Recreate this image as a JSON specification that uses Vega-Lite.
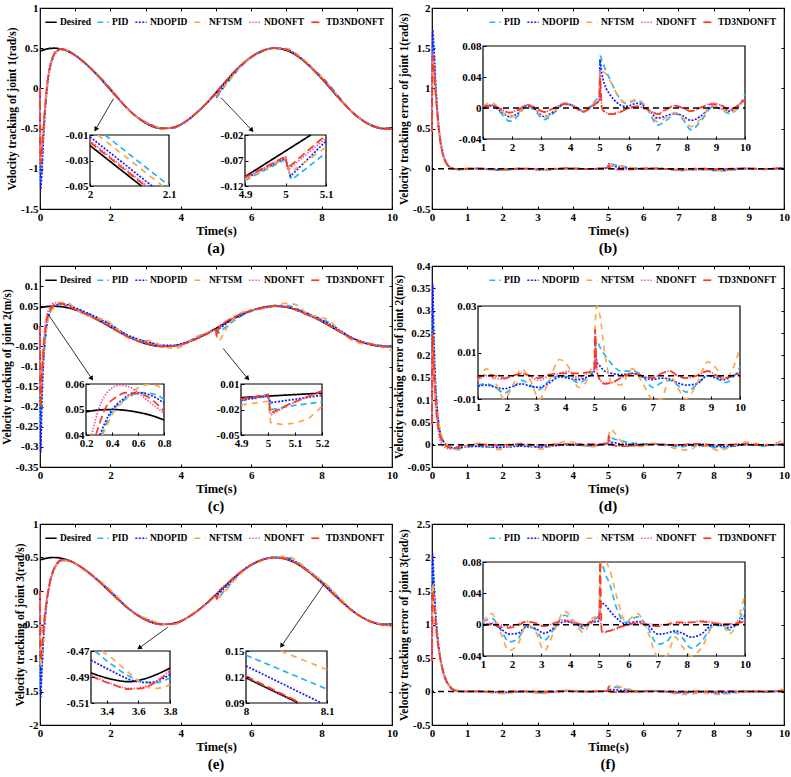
{
"$schema":"https://vega.github.io/schema/vega-lite/v6.json",
"background":"white",
"padding":{"left":0,"top":1,"right":3,"bottom":2},
"config":{
 "view":{"stroke":"#000","strokeWidth":1.2},
 "axis":{"labelFont":"Liberation Serif","labelFontWeight":"bold","labelFontSize":11,"labelColor":"#000","titleFont":"Liberation Serif","titleFontWeight":"bold","titleColor":"#000","grid":false,"domain":false,"ticks":true,"tickColor":"#000","tickSize":-3,"tickWidth":1,"labelPadding":5,"labelFlush":false,"labelOverlap":false,"labelBound":false},
 "legend":{"labelFont":"Liberation Serif","labelFontWeight":"bold","labelFontSize":9.5,"labelColor":"#000","symbolType":"stroke","symbolSize":130,"symbolStrokeWidth":2,"columnPadding":2,"labelOffset":2,"padding":0,"direction":"horizontal","orient":"top-right","offset":7},
 "title":{"font":"Liberation Serif","fontSize":15,"fontWeight":"bold","color":"#000","orient":"bottom","anchor":"middle","offset":4},
 "line":{"strokeWidth":1.7,"interpolate":"monotone"}
},
"datasets":{
"a":[
{"t":0,"Desired":0.462,"PID":0,"NDOPID":0,"NFTSM":0,"NDONFT":0,"TD3NDONFT":0},
{"t":0.02,"Desired":0.466,"PID":-1.154,"NDOPID":-1.254,"NFTSM":-0.884,"NDONFT":-0.984,"TD3NDONFT":-0.934},
{"t":0.05,"Desired":0.471,"PID":-1.029,"NDOPID":-1.079,"NFTSM":-0.779,"NDONFT":-0.829,"TD3NDONFT":-0.779},
{"t":0.1,"Desired":0.479,"PID":-0.571,"NDOPID":-0.621,"NFTSM":-0.521,"NDONFT":-0.491,"TD3NDONFT":-0.471},
{"t":0.15,"Desired":0.485,"PID":-0.235,"NDOPID":-0.265,"NFTSM":-0.235,"NDONFT":-0.195,"TD3NDONFT":-0.195},
{"t":0.2,"Desired":0.491,"PID":0.021,"NDOPID":-0.009,"NFTSM":0.011,"NDONFT":0.041,"TD3NDONFT":0.041},
{"t":0.3,"Desired":0.498,"PID":0.298,"NDOPID":0.278,"NFTSM":0.288,"NDONFT":0.308,"TD3NDONFT":0.308},
{"t":0.4,"Desired":0.5,"PID":0.42,"NDOPID":0.41,"NFTSM":0.415,"NDONFT":0.43,"TD3NDONFT":0.43},
{"t":0.5,"Desired":0.497,"PID":0.472,"NDOPID":0.467,"NFTSM":0.467,"NDONFT":0.477,"TD3NDONFT":0.477},
{"t":0.6,"Desired":0.489,"PID":0.489,"NDOPID":0.484,"NFTSM":0.484,"NDONFT":0.491,"TD3NDONFT":0.491},
{"t":0.8,"Desired":0.459,"PID":0.469,"NDOPID":0.467,"NFTSM":0.465,"NDONFT":0.465,"TD3NDONFT":0.465},
{"t":1,"Desired":0.411,"PID":0.411,"NDOPID":0.411,"NFTSM":0.409,"NDONFT":0.409,"TD3NDONFT":0.409},
{"t":1.3,"Desired":0.308,"PID":0.304,"NDOPID":0.305,"NFTSM":0.301,"NDONFT":0.304,"TD3NDONFT":0.305},
{"t":1.6,"Desired":0.178,"PID":0.184,"NDOPID":0.182,"NFTSM":0.18,"NDONFT":0.179,"TD3NDONFT":0.179},
{"t":1.9,"Desired":0.032,"PID":0.049,"NDOPID":0.043,"NFTSM":0.044,"NDONFT":0.038,"TD3NDONFT":0.038},
{"t":2.2,"Desired":-0.117,"PID":-0.107,"NDOPID":-0.11,"NFTSM":-0.11,"NDONFT":-0.115,"TD3NDONFT":-0.114},
{"t":2.5,"Desired":-0.256,"PID":-0.259,"NDOPID":-0.259,"NFTSM":-0.26,"NDONFT":-0.26,"TD3NDONFT":-0.26},
{"t":2.8,"Desired":-0.371,"PID":-0.367,"NDOPID":-0.369,"NFTSM":-0.369,"NDONFT":-0.372,"TD3NDONFT":-0.371},
{"t":3.1,"Desired":-0.454,"PID":-0.439,"NDOPID":-0.443,"NFTSM":-0.442,"NDONFT":-0.449,"TD3NDONFT":-0.449},
{"t":3.45,"Desired":-0.498,"PID":-0.492,"NDOPID":-0.494,"NFTSM":-0.494,"NDONFT":-0.498,"TD3NDONFT":-0.498},
{"t":3.8,"Desired":-0.483,"PID":-0.488,"NDOPID":-0.489,"NFTSM":-0.489,"NDONFT":-0.489,"TD3NDONFT":-0.488},
{"t":4.1,"Desired":-0.422,"PID":-0.425,"NDOPID":-0.425,"NFTSM":-0.425,"NDONFT":-0.425,"TD3NDONFT":-0.424},
{"t":4.45,"Desired":-0.305,"PID":-0.301,"NDOPID":-0.301,"NFTSM":-0.301,"NDONFT":-0.3,"TD3NDONFT":-0.3},
{"t":4.75,"Desired":-0.174,"PID":-0.179,"NDOPID":-0.177,"NFTSM":-0.178,"NDONFT":-0.176,"TD3NDONFT":-0.176},
{"t":4.95,"Desired":-0.077,"PID":-0.09,"NDOPID":-0.085,"NFTSM":-0.087,"NDONFT":-0.085,"TD3NDONFT":-0.085},
{"t":5,"Desired":-0.053,"PID":-0.068,"NDOPID":-0.063,"NFTSM":-0.065,"NDONFT":-0.063,"TD3NDONFT":-0.063},
{"t":5.02,"Desired":-0.043,"PID":-0.111,"NDOPID":-0.105,"NFTSM":-0.093,"NDONFT":-0.088,"TD3NDONFT":-0.083},
{"t":5.08,"Desired":-0.013,"PID":-0.075,"NDOPID":-0.058,"NFTSM":-0.061,"NDONFT":-0.015,"TD3NDONFT":-0.013},
{"t":5.2,"Desired":0.047,"PID":-0.003,"NDOPID":0.019,"NFTSM":0.002,"NDONFT":0.052,"TD3NDONFT":0.053},
{"t":5.35,"Desired":0.121,"PID":0.083,"NDOPID":0.103,"NFTSM":0.085,"NDONFT":0.129,"TD3NDONFT":0.129},
{"t":5.6,"Desired":0.238,"PID":0.22,"NDOPID":0.231,"NFTSM":0.22,"NDONFT":0.244,"TD3NDONFT":0.245},
{"t":5.9,"Desired":0.357,"PID":0.351,"NDOPID":0.355,"NFTSM":0.35,"NDONFT":0.359,"TD3NDONFT":0.359},
{"t":6.3,"Desired":0.465,"PID":0.455,"NDOPID":0.459,"NFTSM":0.454,"NDONFT":0.463,"TD3NDONFT":0.463},
{"t":6.65,"Desired":0.5,"PID":0.502,"NDOPID":0.501,"NFTSM":0.5,"NDONFT":0.502,"TD3NDONFT":0.502},
{"t":7,"Desired":0.474,"PID":0.496,"NDOPID":0.487,"NFTSM":0.492,"NDONFT":0.481,"TD3NDONFT":0.482},
{"t":7.3,"Desired":0.406,"PID":0.422,"NDOPID":0.416,"NFTSM":0.418,"NDONFT":0.407,"TD3NDONFT":0.408},
{"t":7.6,"Desired":0.301,"PID":0.308,"NDOPID":0.308,"NFTSM":0.307,"NDONFT":0.298,"TD3NDONFT":0.298},
{"t":7.85,"Desired":0.193,"PID":0.207,"NDOPID":0.203,"NFTSM":0.205,"NDONFT":0.193,"TD3NDONFT":0.193},
{"t":8.15,"Desired":0.048,"PID":0.076,"NDOPID":0.064,"NFTSM":0.072,"NDONFT":0.052,"TD3NDONFT":0.052},
{"t":8.5,"Desired":-0.125,"PID":-0.109,"NDOPID":-0.115,"NFTSM":-0.112,"NDONFT":-0.126,"TD3NDONFT":-0.126},
{"t":8.9,"Desired":-0.304,"PID":-0.306,"NDOPID":-0.306,"NFTSM":-0.307,"NDONFT":-0.31,"TD3NDONFT":-0.309},
{"t":9.2,"Desired":-0.408,"PID":-0.406,"NDOPID":-0.407,"NFTSM":-0.407,"NDONFT":-0.411,"TD3NDONFT":-0.411},
{"t":9.45,"Desired":-0.467,"PID":-0.46,"NDOPID":-0.463,"NFTSM":-0.461,"NDONFT":-0.465,"TD3NDONFT":-0.465},
{"t":9.75,"Desired":-0.499,"PID":-0.499,"NDOPID":-0.501,"NFTSM":-0.499,"NDONFT":-0.502,"TD3NDONFT":-0.502},
{"t":10,"Desired":-0.492,"PID":-0.51,"NDOPID":-0.504,"NFTSM":-0.505,"NDONFT":-0.504,"TD3NDONFT":-0.503}
],
"b":[
{"t":0,"PID":0.462,"NDOPID":0.462,"NFTSM":0.462,"NDONFT":0.462,"TD3NDONFT":0.462},
{"t":0.02,"PID":1.62,"NDOPID":1.72,"NFTSM":1.35,"NDONFT":1.45,"TD3NDONFT":1.4},
{"t":0.05,"PID":1.5,"NDOPID":1.55,"NFTSM":1.25,"NDONFT":1.3,"TD3NDONFT":1.25},
{"t":0.1,"PID":1.05,"NDOPID":1.1,"NFTSM":1.0,"NDONFT":0.97,"TD3NDONFT":0.95},
{"t":0.15,"PID":0.72,"NDOPID":0.75,"NFTSM":0.72,"NDONFT":0.68,"TD3NDONFT":0.68},
{"t":0.2,"PID":0.47,"NDOPID":0.5,"NFTSM":0.48,"NDONFT":0.45,"TD3NDONFT":0.45},
{"t":0.3,"PID":0.2,"NDOPID":0.22,"NFTSM":0.21,"NDONFT":0.19,"TD3NDONFT":0.19},
{"t":0.4,"PID":0.08,"NDOPID":0.09,"NFTSM":0.085,"NDONFT":0.07,"TD3NDONFT":0.07},
{"t":0.5,"PID":0.025,"NDOPID":0.03,"NFTSM":0.03,"NDONFT":0.02,"TD3NDONFT":0.02},
{"t":0.6,"PID":0,"NDOPID":0.005,"NFTSM":0.005,"NDONFT":-0.002,"TD3NDONFT":-0.002},
{"t":0.8,"PID":-0.01,"NDOPID":-0.008,"NFTSM":-0.006,"NDONFT":-0.006,"TD3NDONFT":-0.006},
{"t":1,"PID":0,"NDOPID":0,"NFTSM":0.002,"NDONFT":0.002,"TD3NDONFT":0.002},
{"t":1.3,"PID":0.004,"NDOPID":0.003,"NFTSM":0.007,"NDONFT":0.004,"TD3NDONFT":0.003},
{"t":1.6,"PID":-0.006,"NDOPID":-0.004,"NFTSM":-0.002,"NDONFT":-0.001,"TD3NDONFT":-0.001},
{"t":1.9,"PID":-0.017,"NDOPID":-0.011,"NFTSM":-0.012,"NDONFT":-0.006,"TD3NDONFT":-0.006},
{"t":2.2,"PID":-0.01,"NDOPID":-0.007,"NFTSM":-0.007,"NDONFT":-0.002,"TD3NDONFT":-0.003},
{"t":2.5,"PID":0.003,"NDOPID":0.003,"NFTSM":0.004,"NDONFT":0.004,"TD3NDONFT":0.004},
{"t":2.8,"PID":-0.004,"NDOPID":-0.002,"NFTSM":-0.002,"NDONFT":0.001,"TD3NDONFT":0},
{"t":3.1,"PID":-0.015,"NDOPID":-0.011,"NFTSM":-0.012,"NDONFT":-0.005,"TD3NDONFT":-0.005},
{"t":3.45,"PID":-0.006,"NDOPID":-0.004,"NFTSM":-0.004,"NDONFT":0,"TD3NDONFT":0},
{"t":3.8,"PID":0.005,"NDOPID":0.006,"NFTSM":0.006,"NDONFT":0.006,"TD3NDONFT":0.005},
{"t":4.1,"PID":0.003,"NDOPID":0.003,"NFTSM":0.003,"NDONFT":0.003,"TD3NDONFT":0.002},
{"t":4.45,"PID":-0.004,"NDOPID":-0.004,"NFTSM":-0.004,"NDONFT":-0.005,"TD3NDONFT":-0.005},
{"t":4.75,"PID":0.005,"NDOPID":0.003,"NFTSM":0.004,"NDONFT":0.002,"TD3NDONFT":0.002},
{"t":4.95,"PID":0.013,"NDOPID":0.008,"NFTSM":0.01,"NDONFT":0.008,"TD3NDONFT":0.008},
{"t":5,"PID":0.015,"NDOPID":0.01,"NFTSM":0.012,"NDONFT":0.01,"TD3NDONFT":0.01},
{"t":5.02,"PID":0.068,"NDOPID":0.062,"NFTSM":0.05,"NDONFT":0.045,"TD3NDONFT":0.04},
{"t":5.08,"PID":0.062,"NDOPID":0.045,"NFTSM":0.048,"NDONFT":0.002,"TD3NDONFT":0},
{"t":5.2,"PID":0.05,"NDOPID":0.028,"NFTSM":0.045,"NDONFT":-0.005,"TD3NDONFT":-0.006},
{"t":5.35,"PID":0.038,"NDOPID":0.018,"NFTSM":0.036,"NDONFT":-0.008,"TD3NDONFT":-0.008},
{"t":5.6,"PID":0.018,"NDOPID":0.007,"NFTSM":0.018,"NDONFT":-0.006,"TD3NDONFT":-0.007},
{"t":5.9,"PID":0.006,"NDOPID":0.002,"NFTSM":0.007,"NDONFT":-0.002,"TD3NDONFT":-0.002},
{"t":6.3,"PID":0.01,"NDOPID":0.006,"NFTSM":0.011,"NDONFT":0.002,"TD3NDONFT":0.002},
{"t":6.65,"PID":-0.002,"NDOPID":-0.001,"NFTSM":0,"NDONFT":-0.002,"TD3NDONFT":-0.002},
{"t":7,"PID":-0.022,"NDOPID":-0.013,"NFTSM":-0.018,"NDONFT":-0.007,"TD3NDONFT":-0.008},
{"t":7.3,"PID":-0.016,"NDOPID":-0.01,"NFTSM":-0.012,"NDONFT":-0.001,"TD3NDONFT":-0.002},
{"t":7.6,"PID":-0.007,"NDOPID":-0.007,"NFTSM":-0.006,"NDONFT":0.003,"TD3NDONFT":0.003},
{"t":7.85,"PID":-0.014,"NDOPID":-0.01,"NFTSM":-0.012,"NDONFT":0,"TD3NDONFT":0},
{"t":8.15,"PID":-0.028,"NDOPID":-0.016,"NFTSM":-0.024,"NDONFT":-0.004,"TD3NDONFT":-0.004},
{"t":8.5,"PID":-0.016,"NDOPID":-0.01,"NFTSM":-0.013,"NDONFT":0.001,"TD3NDONFT":0.001},
{"t":8.9,"PID":0.002,"NDOPID":0.002,"NFTSM":0.003,"NDONFT":0.006,"TD3NDONFT":0.005},
{"t":9.2,"PID":-0.002,"NDOPID":-0.001,"NFTSM":-0.001,"NDONFT":0.003,"TD3NDONFT":0.003},
{"t":9.45,"PID":-0.007,"NDOPID":-0.004,"NFTSM":-0.006,"NDONFT":-0.002,"TD3NDONFT":-0.002},
{"t":9.75,"PID":0,"NDOPID":0.002,"NFTSM":0,"NDONFT":0.003,"TD3NDONFT":0.003},
{"t":10,"PID":0.018,"NDOPID":0.012,"NFTSM":0.013,"NDONFT":0.012,"TD3NDONFT":0.011}
],
"c":[
{"t":0,"Desired":0.0462,"PID":0,"NDOPID":0,"NFTSM":0,"NDONFT":0,"TD3NDONFT":0},
{"t":0.02,"Desired":0.0466,"PID":-0.253,"NDOPID":-0.313,"NFTSM":-0.173,"NDONFT":-0.153,"TD3NDONFT":-0.203},
{"t":0.05,"Desired":0.0471,"PID":-0.173,"NDOPID":-0.203,"NFTSM":-0.133,"NDONFT":-0.113,"TD3NDONFT":-0.133},
{"t":0.1,"Desired":0.0479,"PID":-0.082,"NDOPID":-0.092,"NFTSM":-0.072,"NDONFT":-0.042,"TD3NDONFT":-0.052},
{"t":0.15,"Desired":0.0485,"PID":-0.027,"NDOPID":-0.032,"NFTSM":-0.027,"NDONFT":0.004,"TD3NDONFT":-0.007},
{"t":0.2,"Desired":0.0491,"PID":0.009,"NDOPID":0.007,"NFTSM":0.004,"NDONFT":0.029,"TD3NDONFT":0.021},
{"t":0.3,"Desired":0.0498,"PID":0.037,"NDOPID":0.039,"NFTSM":0.035,"NDONFT":0.05,"TD3NDONFT":0.043},
{"t":0.4,"Desired":0.05,"PID":0.049,"NDOPID":0.05,"NFTSM":0.047,"NDONFT":0.058,"TD3NDONFT":0.053},
{"t":0.5,"Desired":0.0497,"PID":0.054,"NDOPID":0.054,"NFTSM":0.054,"NDONFT":0.059,"TD3NDONFT":0.057},
{"t":0.6,"Desired":0.0489,"PID":0.056,"NDOPID":0.057,"NFTSM":0.059,"NDONFT":0.058,"TD3NDONFT":0.056},
{"t":0.8,"Desired":0.0459,"PID":0.054,"NDOPID":0.053,"NFTSM":0.058,"NDONFT":0.049,"TD3NDONFT":0.049},
{"t":1,"Desired":0.0411,"PID":0.045,"NDOPID":0.046,"NFTSM":0.043,"NDONFT":0.043,"TD3NDONFT":0.042},
{"t":1.3,"Desired":0.0308,"PID":0.0343,"NDOPID":0.0348,"NFTSM":0.0278,"NDONFT":0.0308,"TD3NDONFT":0.0303},
{"t":1.6,"Desired":0.0178,"PID":0.0228,"NDOPID":0.0228,"NFTSM":0.0208,"NDONFT":0.0188,"TD3NDONFT":0.0178},
{"t":1.9,"Desired":0.0032,"PID":0.0107,"NDOPID":0.0088,"NFTSM":0.0142,"NDONFT":0.0047,"TD3NDONFT":0.0042},
{"t":2.2,"Desired":-0.0117,"PID":-0.0067,"NDOPID":-0.0072,"NFTSM":-0.0077,"NDONFT":-0.0117,"TD3NDONFT":-0.0117},
{"t":2.5,"Desired":-0.0256,"PID":-0.0236,"NDOPID":-0.0221,"NFTSM":-0.0286,"NDONFT":-0.0266,"TD3NDONFT":-0.0266},
{"t":2.8,"Desired":-0.0371,"PID":-0.0331,"NDOPID":-0.0326,"NFTSM":-0.0351,"NDONFT":-0.0366,"TD3NDONFT":-0.0371},
{"t":3.1,"Desired":-0.0454,"PID":-0.0394,"NDOPID":-0.0404,"NFTSM":-0.0354,"NDONFT":-0.0434,"TD3NDONFT":-0.0444},
{"t":3.45,"Desired":-0.0498,"PID":-0.0478,"NDOPID":-0.0468,"NFTSM":-0.0478,"NDONFT":-0.0498,"TD3NDONFT":-0.0503},
{"t":3.8,"Desired":-0.0483,"PID":-0.0483,"NDOPID":-0.0478,"NFTSM":-0.0553,"NDONFT":-0.0493,"TD3NDONFT":-0.0493},
{"t":4.1,"Desired":-0.0422,"PID":-0.0417,"NDOPID":-0.0412,"NFTSM":-0.0462,"NDONFT":-0.0442,"TD3NDONFT":-0.0432},
{"t":4.45,"Desired":-0.0305,"PID":-0.0275,"NDOPID":-0.0288,"NFTSM":-0.0255,"NDONFT":-0.0295,"TD3NDONFT":-0.0315},
{"t":4.75,"Desired":-0.0174,"PID":-0.0164,"NDOPID":-0.0169,"NFTSM":-0.0154,"NDONFT":-0.0184,"TD3NDONFT":-0.0189},
{"t":4.95,"Desired":-0.0077,"PID":-0.0097,"NDOPID":-0.0087,"NFTSM":-0.0127,"NDONFT":-0.0097,"TD3NDONFT":-0.0097},
{"t":5,"Desired":-0.0053,"PID":-0.0083,"NDOPID":-0.0073,"NFTSM":-0.0113,"NDONFT":-0.0083,"TD3NDONFT":-0.0083},
{"t":5.02,"Desired":-0.0043,"PID":-0.0143,"NDOPID":-0.0138,"NFTSM":-0.0243,"NDONFT":-0.0243,"TD3NDONFT":-0.0243},
{"t":5.08,"Desired":-0.0013,"PID":-0.0163,"NDOPID":-0.0073,"NFTSM":-0.0363,"NDONFT":-0.0043,"TD3NDONFT":-0.0033},
{"t":5.2,"Desired":0.0047,"PID":-0.0073,"NDOPID":0.0007,"NFTSM":-0.0203,"NDONFT":0.0067,"TD3NDONFT":0.0067},
{"t":5.35,"Desired":0.0121,"PID":0.0031,"NDOPID":0.0101,"NFTSM":0.0021,"NDONFT":0.0151,"TD3NDONFT":0.0156},
{"t":5.6,"Desired":0.0238,"PID":0.0188,"NDOPID":0.0228,"NFTSM":0.0268,"NDONFT":0.0268,"TD3NDONFT":0.0268},
{"t":5.9,"Desired":0.0357,"PID":0.0337,"NDOPID":0.0352,"NFTSM":0.0397,"NDONFT":0.0367,"TD3NDONFT":0.0367},
{"t":6.3,"Desired":0.0465,"PID":0.0445,"NDOPID":0.0455,"NFTSM":0.0435,"NDONFT":0.0455,"TD3NDONFT":0.0455},
{"t":6.65,"Desired":0.05,"PID":0.05,"NDOPID":0.0505,"NFTSM":0.053,"NDONFT":0.05,"TD3NDONFT":0.05},
{"t":7,"Desired":0.0474,"PID":0.0524,"NDOPID":0.0491,"NFTSM":0.0574,"NDONFT":0.0484,"TD3NDONFT":0.0484},
{"t":7.3,"Desired":0.0406,"PID":0.0436,"NDOPID":0.0416,"NFTSM":0.0526,"NDONFT":0.0396,"TD3NDONFT":0.0396},
{"t":7.6,"Desired":0.0301,"PID":0.0321,"NDOPID":0.0316,"NFTSM":0.0301,"NDONFT":0.0281,"TD3NDONFT":0.0281},
{"t":7.85,"Desired":0.0193,"PID":0.0233,"NDOPID":0.0223,"NFTSM":0.0243,"NDONFT":0.0193,"TD3NDONFT":0.0193},
{"t":8.15,"Desired":0.0048,"PID":0.0118,"NDOPID":0.0088,"NFTSM":0.0178,"NDONFT":0.0058,"TD3NDONFT":0.0058},
{"t":8.5,"Desired":-0.0125,"PID":-0.0085,"NDOPID":-0.009,"NFTSM":-0.0085,"NDONFT":-0.0125,"TD3NDONFT":-0.0125},
{"t":8.9,"Desired":-0.0304,"PID":-0.0304,"NDOPID":-0.0304,"NFTSM":-0.0364,"NDONFT":-0.0324,"TD3NDONFT":-0.0324},
{"t":9.2,"Desired":-0.0408,"PID":-0.0398,"NDOPID":-0.0398,"NFTSM":-0.0438,"NDONFT":-0.0408,"TD3NDONFT":-0.0408},
{"t":9.45,"Desired":-0.0467,"PID":-0.0437,"NDOPID":-0.045,"NFTSM":-0.0447,"NDONFT":-0.0457,"TD3NDONFT":-0.0457},
{"t":9.75,"Desired":-0.0499,"PID":-0.0489,"NDOPID":-0.0499,"NFTSM":-0.0529,"NDONFT":-0.0499,"TD3NDONFT":-0.0499},
{"t":10,"Desired":-0.0492,"PID":-0.0532,"NDOPID":-0.0508,"NFTSM":-0.0612,"NDONFT":-0.0502,"TD3NDONFT":-0.0502}
],
"d":[
{"t":0,"PID":0.046,"NDOPID":0.046,"NFTSM":0.046,"NDONFT":0.046,"TD3NDONFT":0.046},
{"t":0.02,"PID":0.3,"NDOPID":0.36,"NFTSM":0.22,"NDONFT":0.2,"TD3NDONFT":0.25},
{"t":0.05,"PID":0.22,"NDOPID":0.25,"NFTSM":0.18,"NDONFT":0.16,"TD3NDONFT":0.18},
{"t":0.1,"PID":0.13,"NDOPID":0.14,"NFTSM":0.12,"NDONFT":0.09,"TD3NDONFT":0.1},
{"t":0.15,"PID":0.075,"NDOPID":0.08,"NFTSM":0.075,"NDONFT":0.045,"TD3NDONFT":0.055},
{"t":0.2,"PID":0.04,"NDOPID":0.042,"NFTSM":0.045,"NDONFT":0.02,"TD3NDONFT":0.028},
{"t":0.3,"PID":0.013,"NDOPID":0.011,"NFTSM":0.015,"NDONFT":-0.0007,"TD3NDONFT":0.0068},
{"t":0.4,"PID":0.0015,"NDOPID":0.0005,"NFTSM":0.003,"NDONFT":-0.0078,"TD3NDONFT":-0.003},
{"t":0.5,"PID":-0.004,"NDOPID":-0.0043,"NFTSM":-0.0038,"NDONFT":-0.0093,"TD3NDONFT":-0.0068},
{"t":0.6,"PID":-0.0073,"NDOPID":-0.0077,"NFTSM":-0.0096,"NDONFT":-0.0091,"TD3NDONFT":-0.0071},
{"t":0.8,"PID":-0.0081,"NDOPID":-0.0066,"NFTSM":-0.0117,"NDONFT":-0.0026,"TD3NDONFT":-0.0035},
{"t":1,"PID":-0.004,"NDOPID":-0.0045,"NFTSM":-0.002,"NDONFT":-0.002,"TD3NDONFT":-0.001},
{"t":1.3,"PID":-0.0035,"NDOPID":-0.004,"NFTSM":0.003,"NDONFT":0,"TD3NDONFT":0.0005},
{"t":1.6,"PID":-0.005,"NDOPID":-0.005,"NFTSM":-0.003,"NDONFT":-0.001,"TD3NDONFT":0},
{"t":1.9,"PID":-0.0075,"NDOPID":-0.0056,"NFTSM":-0.011,"NDONFT":-0.0015,"TD3NDONFT":-0.001},
{"t":2.2,"PID":-0.005,"NDOPID":-0.0045,"NFTSM":-0.004,"NDONFT":0,"TD3NDONFT":0},
{"t":2.5,"PID":-0.002,"NDOPID":-0.0035,"NFTSM":0.003,"NDONFT":0.001,"TD3NDONFT":0.001},
{"t":2.8,"PID":-0.004,"NDOPID":-0.0045,"NFTSM":-0.002,"NDONFT":-0.0005,"TD3NDONFT":0},
{"t":3.1,"PID":-0.006,"NDOPID":-0.005,"NFTSM":-0.01,"NDONFT":-0.002,"TD3NDONFT":-0.001},
{"t":3.45,"PID":-0.002,"NDOPID":-0.003,"NFTSM":-0.002,"NDONFT":0,"TD3NDONFT":0.0005},
{"t":3.8,"PID":0,"NDOPID":-0.0005,"NFTSM":0.007,"NDONFT":0.001,"TD3NDONFT":0.001},
{"t":4.1,"PID":-0.0005,"NDOPID":-0.001,"NFTSM":0.004,"NDONFT":0.002,"TD3NDONFT":0.001},
{"t":4.45,"PID":-0.003,"NDOPID":-0.0017,"NFTSM":-0.005,"NDONFT":-0.001,"TD3NDONFT":0.001},
{"t":4.75,"PID":-0.001,"NDOPID":-0.0005,"NFTSM":-0.002,"NDONFT":0.001,"TD3NDONFT":0.0015},
{"t":4.95,"PID":0.002,"NDOPID":0.001,"NFTSM":0.005,"NDONFT":0.002,"TD3NDONFT":0.002},
{"t":5,"PID":0.003,"NDOPID":0.002,"NFTSM":0.006,"NDONFT":0.003,"TD3NDONFT":0.003},
{"t":5.02,"PID":0.01,"NDOPID":0.0095,"NFTSM":0.02,"NDONFT":0.02,"TD3NDONFT":0.02},
{"t":5.08,"PID":0.015,"NDOPID":0.006,"NFTSM":0.035,"NDONFT":0.003,"TD3NDONFT":0.002},
{"t":5.2,"PID":0.012,"NDOPID":0.004,"NFTSM":0.025,"NDONFT":-0.002,"TD3NDONFT":-0.002},
{"t":5.35,"PID":0.009,"NDOPID":0.002,"NFTSM":0.01,"NDONFT":-0.003,"TD3NDONFT":-0.0035},
{"t":5.6,"PID":0.005,"NDOPID":0.001,"NFTSM":-0.003,"NDONFT":-0.003,"TD3NDONFT":-0.003},
{"t":5.9,"PID":0.002,"NDOPID":0.0005,"NFTSM":-0.004,"NDONFT":-0.001,"TD3NDONFT":-0.001},
{"t":6.3,"PID":0.002,"NDOPID":0.001,"NFTSM":0.003,"NDONFT":0.001,"TD3NDONFT":0.001},
{"t":6.65,"PID":0,"NDOPID":-0.0005,"NFTSM":-0.003,"NDONFT":0,"TD3NDONFT":0},
{"t":7,"PID":-0.005,"NDOPID":-0.0017,"NFTSM":-0.01,"NDONFT":-0.001,"TD3NDONFT":-0.001},
{"t":7.3,"PID":-0.003,"NDOPID":-0.001,"NFTSM":-0.012,"NDONFT":0.001,"TD3NDONFT":0.001},
{"t":7.6,"PID":-0.002,"NDOPID":-0.0015,"NFTSM":0,"NDONFT":0.002,"TD3NDONFT":0.002},
{"t":7.85,"PID":-0.004,"NDOPID":-0.003,"NFTSM":-0.005,"NDONFT":0,"TD3NDONFT":0},
{"t":8.15,"PID":-0.007,"NDOPID":-0.004,"NFTSM":-0.013,"NDONFT":-0.001,"TD3NDONFT":-0.001},
{"t":8.5,"PID":-0.004,"NDOPID":-0.0035,"NFTSM":-0.004,"NDONFT":0,"TD3NDONFT":0},
{"t":8.9,"PID":0,"NDOPID":0,"NFTSM":0.006,"NDONFT":0.002,"TD3NDONFT":0.002},
{"t":9.2,"PID":-0.001,"NDOPID":-0.001,"NFTSM":0.003,"NDONFT":0,"TD3NDONFT":0},
{"t":9.45,"PID":-0.003,"NDOPID":-0.0017,"NFTSM":-0.002,"NDONFT":-0.001,"TD3NDONFT":-0.001},
{"t":9.75,"PID":-0.001,"NDOPID":0,"NFTSM":0.003,"NDONFT":0,"TD3NDONFT":0},
{"t":10,"PID":0.004,"NDOPID":0.0016,"NFTSM":0.012,"NDONFT":0.001,"TD3NDONFT":0.001}
],
"e":[
{"t":0,"Desired":0.462,"PID":0,"NDOPID":0,"NFTSM":0,"NDONFT":0,"TD3NDONFT":0},
{"t":0.02,"Desired":0.466,"PID":-1.434,"NDOPID":-1.584,"NFTSM":-1.134,"NDONFT":-0.634,"TD3NDONFT":-1.034},
{"t":0.05,"Desired":0.471,"PID":-1.129,"NDOPID":-1.229,"NFTSM":-0.979,"NDONFT":-0.579,"TD3NDONFT":-0.879},
{"t":0.1,"Desired":0.479,"PID":-0.671,"NDOPID":-0.721,"NFTSM":-0.621,"NDONFT":-0.471,"TD3NDONFT":-0.571},
{"t":0.15,"Desired":0.485,"PID":-0.365,"NDOPID":-0.395,"NFTSM":-0.335,"NDONFT":-0.265,"TD3NDONFT":-0.295},
{"t":0.2,"Desired":0.491,"PID":-0.129,"NDOPID":-0.149,"NFTSM":-0.129,"NDONFT":-0.089,"TD3NDONFT":-0.109},
{"t":0.3,"Desired":0.498,"PID":0.168,"NDOPID":0.158,"NFTSM":0.158,"NDONFT":0.188,"TD3NDONFT":0.178},
{"t":0.4,"Desired":0.5,"PID":0.33,"NDOPID":0.32,"NFTSM":0.32,"NDONFT":0.34,"TD3NDONFT":0.34},
{"t":0.5,"Desired":0.497,"PID":0.417,"NDOPID":0.412,"NFTSM":0.407,"NDONFT":0.427,"TD3NDONFT":0.427},
{"t":0.6,"Desired":0.489,"PID":0.459,"NDOPID":0.454,"NFTSM":0.449,"NDONFT":0.464,"TD3NDONFT":0.464},
{"t":0.8,"Desired":0.459,"PID":0.459,"NDOPID":0.454,"NFTSM":0.449,"NDONFT":0.459,"TD3NDONFT":0.459},
{"t":1,"Desired":0.411,"PID":0.408,"NDOPID":0.411,"NFTSM":0.408,"NDONFT":0.411,"TD3NDONFT":0.411},
{"t":1.3,"Desired":0.308,"PID":0.3,"NDOPID":0.307,"NFTSM":0.294,"NDONFT":0.306,"TD3NDONFT":0.308},
{"t":1.6,"Desired":0.178,"PID":0.184,"NDOPID":0.183,"NFTSM":0.188,"NDONFT":0.178,"TD3NDONFT":0.181},
{"t":1.9,"Desired":0.032,"PID":0.054,"NDOPID":0.044,"NFTSM":0.065,"NDONFT":0.034,"TD3NDONFT":0.036},
{"t":2.2,"Desired":-0.117,"PID":-0.099,"NDOPID":-0.106,"NFTSM":-0.092,"NDONFT":-0.118,"TD3NDONFT":-0.116},
{"t":2.5,"Desired":-0.256,"PID":-0.255,"NDOPID":-0.253,"NFTSM":-0.256,"NDONFT":-0.26,"TD3NDONFT":-0.26},
{"t":2.8,"Desired":-0.371,"PID":-0.365,"NDOPID":-0.366,"NFTSM":-0.363,"NDONFT":-0.373,"TD3NDONFT":-0.373},
{"t":3.1,"Desired":-0.454,"PID":-0.434,"NDOPID":-0.443,"NFTSM":-0.421,"NDONFT":-0.452,"TD3NDONFT":-0.452},
{"t":3.45,"Desired":-0.498,"PID":-0.493,"NDOPID":-0.494,"NFTSM":-0.49,"NDONFT":-0.5,"TD3NDONFT":-0.5},
{"t":3.8,"Desired":-0.483,"PID":-0.495,"NDOPID":-0.487,"NFTSM":-0.5,"NDONFT":-0.489,"TD3NDONFT":-0.488},
{"t":4.1,"Desired":-0.422,"PID":-0.427,"NDOPID":-0.424,"NFTSM":-0.428,"NDONFT":-0.425,"TD3NDONFT":-0.425},
{"t":4.45,"Desired":-0.305,"PID":-0.3,"NDOPID":-0.303,"NFTSM":-0.295,"NDONFT":-0.304,"TD3NDONFT":-0.305},
{"t":4.75,"Desired":-0.174,"PID":-0.181,"NDOPID":-0.177,"NFTSM":-0.182,"NDONFT":-0.179,"TD3NDONFT":-0.178},
{"t":4.95,"Desired":-0.077,"PID":-0.087,"NDOPID":-0.081,"NFTSM":-0.089,"NDONFT":-0.085,"TD3NDONFT":-0.083},
{"t":5,"Desired":-0.053,"PID":-0.068,"NDOPID":-0.063,"NFTSM":-0.068,"NDONFT":-0.062,"TD3NDONFT":-0.068},
{"t":5.02,"Desired":-0.043,"PID":-0.113,"NDOPID":-0.073,"NFTSM":-0.103,"NDONFT":-0.053,"TD3NDONFT":-0.123},
{"t":5.08,"Desired":-0.013,"PID":-0.09,"NDOPID":-0.041,"NFTSM":-0.098,"NDONFT":-0.005,"TD3NDONFT":-0.003},
{"t":5.2,"Desired":0.047,"PID":-0.018,"NDOPID":0.022,"NFTSM":-0.043,"NDONFT":0.057,"TD3NDONFT":0.056},
{"t":5.35,"Desired":0.121,"PID":0.069,"NDOPID":0.103,"NFTSM":0.051,"NDONFT":0.129,"TD3NDONFT":0.129},
{"t":5.6,"Desired":0.238,"PID":0.218,"NDOPID":0.23,"NFTSM":0.203,"NDONFT":0.243,"TD3NDONFT":0.242},
{"t":5.9,"Desired":0.357,"PID":0.354,"NDOPID":0.356,"NFTSM":0.353,"NDONFT":0.358,"TD3NDONFT":0.358},
{"t":6.3,"Desired":0.465,"PID":0.455,"NDOPID":0.461,"NFTSM":0.451,"NDONFT":0.463,"TD3NDONFT":0.463},
{"t":6.65,"Desired":0.5,"PID":0.503,"NDOPID":0.5,"NFTSM":0.508,"NDONFT":0.499,"TD3NDONFT":0.5},
{"t":7,"Desired":0.474,"PID":0.499,"NDOPID":0.486,"NFTSM":0.516,"NDONFT":0.474,"TD3NDONFT":0.476},
{"t":7.3,"Desired":0.406,"PID":0.428,"NDOPID":0.417,"NFTSM":0.451,"NDONFT":0.406,"TD3NDONFT":0.406},
{"t":7.6,"Desired":0.301,"PID":0.311,"NDOPID":0.309,"NFTSM":0.317,"NDONFT":0.3,"TD3NDONFT":0.298},
{"t":7.85,"Desired":0.193,"PID":0.21,"NDOPID":0.204,"NFTSM":0.221,"NDONFT":0.191,"TD3NDONFT":0.19},
{"t":8.15,"Desired":0.048,"PID":0.078,"NDOPID":0.064,"NFTSM":0.093,"NDONFT":0.045,"TD3NDONFT":0.045},
{"t":8.5,"Desired":-0.125,"PID":-0.103,"NDOPID":-0.113,"NFTSM":-0.095,"NDONFT":-0.13,"TD3NDONFT":-0.129},
{"t":8.9,"Desired":-0.304,"PID":-0.302,"NDOPID":-0.304,"NFTSM":-0.302,"NDONFT":-0.307,"TD3NDONFT":-0.306},
{"t":9.2,"Desired":-0.408,"PID":-0.407,"NDOPID":-0.407,"NFTSM":-0.41,"NDONFT":-0.409,"TD3NDONFT":-0.409},
{"t":9.45,"Desired":-0.467,"PID":-0.46,"NDOPID":-0.463,"NFTSM":-0.455,"NDONFT":-0.467,"TD3NDONFT":-0.468},
{"t":9.75,"Desired":-0.499,"PID":-0.502,"NDOPID":-0.501,"NFTSM":-0.504,"NDONFT":-0.501,"TD3NDONFT":-0.501},
{"t":10,"Desired":-0.492,"PID":-0.516,"NDOPID":-0.504,"NFTSM":-0.532,"NDONFT":-0.497,"TD3NDONFT":-0.496}
],
"f":[
{"t":0,"PID":0.462,"NDOPID":0.462,"NFTSM":0.462,"NDONFT":0.462,"TD3NDONFT":0.462},
{"t":0.02,"PID":1.9,"NDOPID":2.05,"NFTSM":1.6,"NDONFT":1.1,"TD3NDONFT":1.5},
{"t":0.05,"PID":1.6,"NDOPID":1.7,"NFTSM":1.45,"NDONFT":1.05,"TD3NDONFT":1.35},
{"t":0.1,"PID":1.15,"NDOPID":1.2,"NFTSM":1.1,"NDONFT":0.95,"TD3NDONFT":1.05},
{"t":0.15,"PID":0.85,"NDOPID":0.88,"NFTSM":0.82,"NDONFT":0.75,"TD3NDONFT":0.78},
{"t":0.2,"PID":0.62,"NDOPID":0.64,"NFTSM":0.62,"NDONFT":0.58,"TD3NDONFT":0.6},
{"t":0.3,"PID":0.33,"NDOPID":0.34,"NFTSM":0.34,"NDONFT":0.31,"TD3NDONFT":0.32},
{"t":0.4,"PID":0.17,"NDOPID":0.18,"NFTSM":0.18,"NDONFT":0.16,"TD3NDONFT":0.16},
{"t":0.5,"PID":0.08,"NDOPID":0.085,"NFTSM":0.09,"NDONFT":0.07,"TD3NDONFT":0.07},
{"t":0.6,"PID":0.03,"NDOPID":0.035,"NFTSM":0.04,"NDONFT":0.025,"TD3NDONFT":0.025},
{"t":0.8,"PID":0,"NDOPID":0.005,"NFTSM":0.01,"NDONFT":0,"TD3NDONFT":0},
{"t":1,"PID":0.003,"NDOPID":0,"NFTSM":0.003,"NDONFT":0,"TD3NDONFT":0},
{"t":1.3,"PID":0.008,"NDOPID":0.001,"NFTSM":0.014,"NDONFT":0.002,"TD3NDONFT":0},
{"t":1.6,"PID":-0.006,"NDOPID":-0.005,"NFTSM":-0.01,"NDONFT":0,"TD3NDONFT":-0.003},
{"t":1.9,"PID":-0.022,"NDOPID":-0.012,"NFTSM":-0.033,"NDONFT":-0.002,"TD3NDONFT":-0.004},
{"t":2.2,"PID":-0.018,"NDOPID":-0.011,"NFTSM":-0.025,"NDONFT":0.001,"TD3NDONFT":-0.001},
{"t":2.5,"PID":-0.001,"NDOPID":-0.003,"NFTSM":0,"NDONFT":0.004,"TD3NDONFT":0.004},
{"t":2.8,"PID":-0.006,"NDOPID":-0.005,"NFTSM":-0.008,"NDONFT":0.002,"TD3NDONFT":0.002},
{"t":3.1,"PID":-0.02,"NDOPID":-0.011,"NFTSM":-0.033,"NDONFT":-0.002,"TD3NDONFT":-0.002},
{"t":3.45,"PID":-0.005,"NDOPID":-0.004,"NFTSM":-0.008,"NDONFT":0.002,"TD3NDONFT":0.002},
{"t":3.8,"PID":0.012,"NDOPID":0.004,"NFTSM":0.017,"NDONFT":0.006,"TD3NDONFT":0.005},
{"t":4.1,"PID":0.005,"NDOPID":0.002,"NFTSM":0.006,"NDONFT":0.003,"TD3NDONFT":0.003},
{"t":4.45,"PID":-0.005,"NDOPID":-0.002,"NFTSM":-0.01,"NDONFT":-0.001,"TD3NDONFT":0},
{"t":4.75,"PID":0.007,"NDOPID":0.003,"NFTSM":0.008,"NDONFT":0.005,"TD3NDONFT":0.004},
{"t":4.95,"PID":0.01,"NDOPID":0.004,"NFTSM":0.012,"NDONFT":0.008,"TD3NDONFT":0.006},
{"t":5,"PID":0.015,"NDOPID":0.01,"NFTSM":0.015,"NDONFT":0.009,"TD3NDONFT":0.015},
{"t":5.02,"PID":0.07,"NDOPID":0.03,"NFTSM":0.06,"NDONFT":0.01,"TD3NDONFT":0.08},
{"t":5.08,"PID":0.077,"NDOPID":0.028,"NFTSM":0.085,"NDONFT":-0.008,"TD3NDONFT":-0.01},
{"t":5.2,"PID":0.065,"NDOPID":0.025,"NFTSM":0.09,"NDONFT":-0.01,"TD3NDONFT":-0.009},
{"t":5.35,"PID":0.052,"NDOPID":0.018,"NFTSM":0.07,"NDONFT":-0.008,"TD3NDONFT":-0.008},
{"t":5.6,"PID":0.02,"NDOPID":0.008,"NFTSM":0.035,"NDONFT":-0.005,"TD3NDONFT":-0.004},
{"t":5.9,"PID":0.003,"NDOPID":0.001,"NFTSM":0.004,"NDONFT":-0.001,"TD3NDONFT":-0.001},
{"t":6.3,"PID":0.01,"NDOPID":0.004,"NFTSM":0.014,"NDONFT":0.002,"TD3NDONFT":0.002},
{"t":6.65,"PID":-0.003,"NDOPID":0,"NFTSM":-0.008,"NDONFT":0.001,"TD3NDONFT":0},
{"t":7,"PID":-0.025,"NDOPID":-0.012,"NFTSM":-0.042,"NDONFT":0,"TD3NDONFT":-0.002},
{"t":7.3,"PID":-0.022,"NDOPID":-0.011,"NFTSM":-0.045,"NDONFT":0,"TD3NDONFT":0},
{"t":7.6,"PID":-0.01,"NDOPID":-0.008,"NFTSM":-0.016,"NDONFT":0.001,"TD3NDONFT":0.003},
{"t":7.85,"PID":-0.017,"NDOPID":-0.011,"NFTSM":-0.028,"NDONFT":0.002,"TD3NDONFT":0.003},
{"t":8.15,"PID":-0.03,"NDOPID":-0.016,"NFTSM":-0.045,"NDONFT":0.003,"TD3NDONFT":0.003},
{"t":8.5,"PID":-0.022,"NDOPID":-0.012,"NFTSM":-0.03,"NDONFT":0.005,"TD3NDONFT":0.004},
{"t":8.9,"PID":-0.002,"NDOPID":0,"NFTSM":-0.002,"NDONFT":0.003,"TD3NDONFT":0.002},
{"t":9.2,"PID":-0.001,"NDOPID":-0.001,"NFTSM":0.002,"NDONFT":0.001,"TD3NDONFT":0.001},
{"t":9.45,"PID":-0.007,"NDOPID":-0.004,"NFTSM":-0.012,"NDONFT":0,"TD3NDONFT":0.001},
{"t":9.75,"PID":0.003,"NDOPID":0.002,"NFTSM":0.005,"NDONFT":0.002,"TD3NDONFT":0.002},
{"t":10,"PID":0.024,"NDOPID":0.012,"NFTSM":0.04,"NDONFT":0.005,"TD3NDONFT":0.004}
],
"ins":[
{"g":"a1","s":"Desired","t":2,"v":-0.0183},{"g":"a1","s":"Desired","t":2.065,"v":-0.05},
{"g":"a1","s":"PID","t":2.019,"v":-0.01},{"g":"a1","s":"PID","t":2.1,"v":-0.0497},
{"g":"a1","s":"NDOPID","t":2,"v":-0.0115},{"g":"a1","s":"NDOPID","t":2.0786,"v":-0.05},
{"g":"a1","s":"NFTSM","t":2.01,"v":-0.01},{"g":"a1","s":"NFTSM","t":2.092,"v":-0.05},
{"g":"a1","s":"NDONFT","t":2,"v":-0.0145},{"g":"a1","s":"NDONFT","t":2.072,"v":-0.05},
{"g":"a1","s":"TD3NDONFT","t":2,"v":-0.0157},{"g":"a1","s":"TD3NDONFT","t":2.07,"v":-0.05},
{"g":"a2","s":"Desired","t":4.9,"v":-0.1017},{"g":"a2","s":"Desired","t":5.0625,"v":-0.02},
{"g":"a2","s":"PID","t":4.9,"v":-0.109},{"g":"a2","s":"PID","t":5.0,"v":-0.068},{"g":"a2","s":"PID","t":5.015,"v":-0.108},{"g":"a2","s":"PID","t":5.1,"v":-0.055},
{"g":"a2","s":"NDOPID","t":4.9,"v":-0.106},{"g":"a2","s":"NDOPID","t":5.0,"v":-0.065},{"g":"a2","s":"NDOPID","t":5.012,"v":-0.101},{"g":"a2","s":"NDOPID","t":5.1,"v":-0.032},
{"g":"a2","s":"NFTSM","t":4.9,"v":-0.107},{"g":"a2","s":"NFTSM","t":5.0,"v":-0.066},{"g":"a2","s":"NFTSM","t":5.01,"v":-0.095},{"g":"a2","s":"NFTSM","t":5.1,"v":-0.044},
{"g":"a2","s":"NDONFT","t":4.9,"v":-0.104},{"g":"a2","s":"NDONFT","t":5.0,"v":-0.063},{"g":"a2","s":"NDONFT","t":5.006,"v":-0.088},{"g":"a2","s":"NDONFT","t":5.1,"v":-0.026},
{"g":"a2","s":"TD3NDONFT","t":4.9,"v":-0.103},{"g":"a2","s":"TD3NDONFT","t":5.0,"v":-0.062},{"g":"a2","s":"TD3NDONFT","t":5.005,"v":-0.085},{"g":"a2","s":"TD3NDONFT","t":5.1,"v":-0.02},
{"g":"c1","s":"Desired","t":0.2,"v":0.0491},{"g":"c1","s":"Desired","t":0.3,"v":0.0498},{"g":"c1","s":"Desired","t":0.4,"v":0.05},{"g":"c1","s":"Desired","t":0.5,"v":0.0497},{"g":"c1","s":"Desired","t":0.6,"v":0.0489},{"g":"c1","s":"Desired","t":0.7,"v":0.0477},{"g":"c1","s":"Desired","t":0.8,"v":0.0459},
{"g":"c1","s":"PID","t":0.319,"v":0.04},{"g":"c1","s":"PID","t":0.395,"v":0.0485},{"g":"c1","s":"PID","t":0.509,"v":0.0542},{"g":"c1","s":"PID","t":0.623,"v":0.0566},{"g":"c1","s":"PID","t":0.737,"v":0.0558},{"g":"c1","s":"PID","t":0.8,"v":0.054},
{"g":"c1","s":"NDOPID","t":0.306,"v":0.04},{"g":"c1","s":"NDOPID","t":0.382,"v":0.0485},{"g":"c1","s":"NDOPID","t":0.484,"v":0.054},{"g":"c1","s":"NDOPID","t":0.585,"v":0.0566},{"g":"c1","s":"NDOPID","t":0.7,"v":0.0555},{"g":"c1","s":"NDOPID","t":0.8,"v":0.0525},
{"g":"c1","s":"NFTSM","t":0.327,"v":0.04},{"g":"c1","s":"NFTSM","t":0.408,"v":0.0485},{"g":"c1","s":"NFTSM","t":0.509,"v":0.0542},{"g":"c1","s":"NFTSM","t":0.61,"v":0.0588},{"g":"c1","s":"NFTSM","t":0.686,"v":0.0598},{"g":"c1","s":"NFTSM","t":0.75,"v":0.0592},{"g":"c1","s":"NFTSM","t":0.8,"v":0.0576},
{"g":"c1","s":"NDONFT","t":0.243,"v":0.04},{"g":"c1","s":"NDONFT","t":0.3,"v":0.0505},{"g":"c1","s":"NDONFT","t":0.36,"v":0.0565},{"g":"c1","s":"NDONFT","t":0.46,"v":0.0595},{"g":"c1","s":"NDONFT","t":0.55,"v":0.0585},{"g":"c1","s":"NDONFT","t":0.65,"v":0.0545},{"g":"c1","s":"NDONFT","t":0.8,"v":0.0485},
{"g":"c1","s":"TD3NDONFT","t":0.276,"v":0.04},{"g":"c1","s":"TD3NDONFT","t":0.357,"v":0.0512},{"g":"c1","s":"TD3NDONFT","t":0.43,"v":0.0548},{"g":"c1","s":"TD3NDONFT","t":0.51,"v":0.0566},{"g":"c1","s":"TD3NDONFT","t":0.635,"v":0.0558},{"g":"c1","s":"TD3NDONFT","t":0.8,"v":0.0494},
{"g":"c2","s":"Desired","t":4.9,"v":-0.006},{"g":"c2","s":"Desired","t":5.2,"v":-0.0007},
{"g":"c2","s":"PID","t":4.9,"v":-0.0095},{"g":"c2","s":"PID","t":5.0,"v":-0.0045},{"g":"c2","s":"PID","t":5.015,"v":-0.02},{"g":"c2","s":"PID","t":5.1,"v":-0.015},{"g":"c2","s":"PID","t":5.2,"v":-0.0111},
{"g":"c2","s":"NDOPID","t":4.9,"v":-0.009},{"g":"c2","s":"NDOPID","t":5.0,"v":-0.004},{"g":"c2","s":"NDOPID","t":5.01,"v":-0.012},{"g":"c2","s":"NDOPID","t":5.1,"v":-0.008},{"g":"c2","s":"NDOPID","t":5.2,"v":-0.0032},
{"g":"c2","s":"NFTSM","t":4.9,"v":-0.0147},{"g":"c2","s":"NFTSM","t":5.0,"v":-0.0103},{"g":"c2","s":"NFTSM","t":5.01,"v":-0.0354},{"g":"c2","s":"NFTSM","t":5.05,"v":-0.0376},{"g":"c2","s":"NFTSM","t":5.1,"v":-0.036},{"g":"c2","s":"NFTSM","t":5.15,"v":-0.031},{"g":"c2","s":"NFTSM","t":5.2,"v":-0.0164},
{"g":"c2","s":"NDONFT","t":4.9,"v":-0.0085},{"g":"c2","s":"NDONFT","t":5.0,"v":-0.003},{"g":"c2","s":"NDONFT","t":5.01,"v":-0.0266},{"g":"c2","s":"NDONFT","t":5.08,"v":-0.014},{"g":"c2","s":"NDONFT","t":5.15,"v":-0.005},{"g":"c2","s":"NDONFT","t":5.2,"v":0.001},
{"g":"c2","s":"TD3NDONFT","t":4.9,"v":-0.0076},{"g":"c2","s":"TD3NDONFT","t":5.0,"v":-0.0023},{"g":"c2","s":"TD3NDONFT","t":5.01,"v":-0.0244},{"g":"c2","s":"TD3NDONFT","t":5.08,"v":-0.0133},{"g":"c2","s":"TD3NDONFT","t":5.15,"v":-0.0045},{"g":"c2","s":"TD3NDONFT","t":5.2,"v":0.0021},
{"g":"e1","s":"Desired","t":3.3,"v":-0.4869},{"g":"e1","s":"Desired","t":3.434,"v":-0.4918},{"g":"e1","s":"Desired","t":3.541,"v":-0.4936},{"g":"e1","s":"Desired","t":3.627,"v":-0.4918},{"g":"e1","s":"Desired","t":3.8,"v":-0.4832},
{"g":"e1","s":"PID","t":3.326,"v":-0.47},{"g":"e1","s":"PID","t":3.434,"v":-0.4807},{"g":"e1","s":"PID","t":3.541,"v":-0.4893},{"g":"e1","s":"PID","t":3.627,"v":-0.4938},{"g":"e1","s":"PID","t":3.714,"v":-0.4943},{"g":"e1","s":"PID","t":3.8,"v":-0.4906},
{"g":"e1","s":"NDOPID","t":3.3,"v":-0.477},{"g":"e1","s":"NDOPID","t":3.434,"v":-0.4856},{"g":"e1","s":"NDOPID","t":3.541,"v":-0.4918},{"g":"e1","s":"NDOPID","t":3.6,"v":-0.4938},{"g":"e1","s":"NDOPID","t":3.67,"v":-0.4943},{"g":"e1","s":"NDOPID","t":3.8,"v":-0.4881},
{"g":"e1","s":"NFTSM","t":3.369,"v":-0.47},{"g":"e1","s":"NFTSM","t":3.434,"v":-0.4757},{"g":"e1","s":"NFTSM","t":3.541,"v":-0.4869},{"g":"e1","s":"NFTSM","t":3.627,"v":-0.4956},{"g":"e1","s":"NFTSM","t":3.692,"v":-0.4988},{"g":"e1","s":"NFTSM","t":3.757,"v":-0.498},{"g":"e1","s":"NFTSM","t":3.8,"v":-0.4956},
{"g":"e1","s":"NDONFT","t":3.3,"v":-0.4886},{"g":"e1","s":"NDONFT","t":3.434,"v":-0.4953},{"g":"e1","s":"NDONFT","t":3.541,"v":-0.4988},{"g":"e1","s":"NDONFT","t":3.627,"v":-0.498},{"g":"e1","s":"NDONFT","t":3.735,"v":-0.4915},{"g":"e1","s":"NDONFT","t":3.8,"v":-0.4844},
{"g":"e1","s":"TD3NDONFT","t":3.3,"v":-0.4894},{"g":"e1","s":"TD3NDONFT","t":3.434,"v":-0.4956},{"g":"e1","s":"TD3NDONFT","t":3.541,"v":-0.4993},{"g":"e1","s":"TD3NDONFT","t":3.627,"v":-0.4985},{"g":"e1","s":"TD3NDONFT","t":3.735,"v":-0.4918},{"g":"e1","s":"TD3NDONFT","t":3.8,"v":-0.4856},
{"g":"e2","s":"Desired","t":8,"v":0.119},{"g":"e2","s":"Desired","t":8.0646,"v":0.09},
{"g":"e2","s":"PID","t":8,"v":0.1452},{"g":"e2","s":"PID","t":8.1,"v":0.106},
{"g":"e2","s":"NDOPID","t":8,"v":0.1328},{"g":"e2","s":"NDOPID","t":8.093,"v":0.09},
{"g":"e2","s":"NFTSM","t":8.043,"v":0.15},{"g":"e2","s":"NFTSM","t":8.1,"v":0.1284},
{"g":"e2","s":"NDONFT","t":8,"v":0.12},{"g":"e2","s":"NDONFT","t":8.066,"v":0.09},
{"g":"e2","s":"TD3NDONFT","t":8,"v":0.121},{"g":"e2","s":"TD3NDONFT","t":8.068,"v":0.09}
],
"arrows":[
{"g":"a","k":1,"x":2.09,"y":-0.126,"x2":1.58,"y2":-0.51},
{"g":"a","k":2,"x":5.14,"y":-0.114,"x2":6.02,"y2":-0.52},
{"g":"c","k":1,"x":0.23,"y":0.03,"x2":1.47,"y2":-0.13},
{"g":"c","k":2,"x":5.2,"y":-0.055,"x2":5.9,"y2":-0.13},
{"g":"e","k":1,"x":3.63,"y":-0.54,"x2":2.82,"y2":-0.85},
{"g":"e","k":2,"x":8.08,"y":0.11,"x2":6.86,"y2":-0.82}
]
},
"columns":2,
"spacing":{"row":57,"column":40},
"bounds":"flush",
"resolve":{"scale":{"color":"independent","strokeDash":"independent"},"legend":{"color":"independent","strokeDash":"independent"}},
"concat":[
{"width":352,"height":201,"title":{"text":"(a)"},
 "layer":[
  {"layer":[
   {"data":{"name":"a"},"transform":[{"fold":["Desired","PID","NDOPID","NFTSM","NDONFT","TD3NDONFT"],"as":["s","v"]}],"mark":{"type":"line"},
    "encoding":{
     "x":{"field":"t","type":"quantitative","scale":{"domain":[0,10],"nice":false,"zero":false},"axis":{"orient":"bottom","title":"Time(s)","values":[0,1,2,3,4,5,6,7,8,9,10],"labelExpr":"''+datum.value","labelOverlap":false,"titleFontSize":12.5,"titlePadding":2}},
     "y":{"field":"v","type":"quantitative","scale":{"domain":[-1.5,1],"nice":false,"zero":false},"axis":{"orient":"left","title":"Velocity tracking of joint 1(rad/s)","values":[-1.5,-0.5,0.5],"labelExpr":"''+datum.value","labelOverlap":false,"titleFontSize":11.5,"titlePadding":3}},
     "color":{"field":"s","type":"nominal","scale":{"domain":["Desired","PID","NDOPID","NFTSM","NDONFT","TD3NDONFT"],"range":["#000000","#1FB8F0","#1A1AFF","#FFA64D","#EE5A9C","#FF3A1A"]},"legend":{"title":null}},
     "strokeDash":{"field":"s","type":"nominal","scale":{"domain":["Desired","PID","NDOPID","NFTSM","NDONFT","TD3NDONFT"],"range":[[1,0],[6,4],[2,1.5],[6,5],[1.5,1.5],[8,4]]},"legend":{"title":null}}}},
   {"data":{"name":"arrows"},"transform":[{"filter":"datum.g=='a'"}],"mark":{"type":"rule","color":"#000","strokeWidth":0.8},
    "encoding":{"x":{"field":"x","type":"quantitative"},"y":{"field":"y","type":"quantitative"},"x2":{"field":"x2"},"y2":{"field":"y2"}}},
   {"data":{"name":"arrows"},"transform":[{"filter":"datum.g=='a' && datum.k==1"}],"mark":{"type":"point","shape":"triangle-up","filled":true,"color":"#000","opacity":1,"size":28,"angle":210},
    "encoding":{"x":{"field":"x2","type":"quantitative"},"y":{"field":"y2","type":"quantitative"}}},
   {"data":{"name":"arrows"},"transform":[{"filter":"datum.g=='a' && datum.k==2"}],"mark":{"type":"point","shape":"triangle-up","filled":true,"color":"#000","opacity":1,"size":28,"angle":137},
    "encoding":{"x":{"field":"x2","type":"quantitative"},"y":{"field":"y2","type":"quantitative"}}}
  ]},
  {"data":{"values":[{}]},"mark":{"type":"point","opacity":0},
   "encoding":{"x":{"datum":0,"type":"quantitative","scale":{"domain":[0,10],"nice":false,"zero":false},"axis":{"orient":"top","values":[0,1,2,3,4,5,6,7,8,9,10],"labels":false,"title":null}},
    "y":{"datum":0,"type":"quantitative","scale":{"domain":[-1.5,1],"nice":false,"zero":false},"axis":{"orient":"right","values":[-1.5,-1,-0.5,0,0.5,1],"labels":false,"title":null}}}},
  {"data":{"values":[{}]},"mark":{"type":"point","opacity":0},
   "encoding":{"x":{"datum":0,"type":"quantitative","scale":{"domain":[0,10],"nice":false,"zero":false},"axis":null},
    "y":{"datum":0,"type":"quantitative","scale":{"domain":[-1.5,1],"nice":false,"zero":false},"axis":{"orient":"left","values":[-1,0,1],"title":null,"labelExpr":"''+datum.value","labelOverlap":false}}}},
  {"layer":[
   {"data":{"values":[{}]},"mark":{"type":"rect","fill":"#fff","stroke":"#000","strokeWidth":1.2},
    "encoding":{"x":{"datum":2,"type":"quantitative","scale":{"domain":[2,2.1],"range":[50,129],"nice":false,"zero":false,"clamp":true},"axis":{"orient":"bottom","offset":-23,"values":[2,2.1],"title":null,"labelExpr":"''+datum.value","labelOverlap":false,"zindex":1}},"x2":{"datum":2.1},
     "y":{"datum":-0.05,"type":"quantitative","scale":{"domain":[-0.05,-0.01],"range":[178,127],"nice":false,"zero":false,"clamp":true},"axis":{"orient":"left","offset":-50,"values":[-0.05,-0.03,-0.01],"title":null,"labelExpr":"''+datum.value","labelOverlap":false,"zindex":1}},"y2":{"datum":-0.01}}},
   {"data":{"name":"ins"},"transform":[{"filter":"datum.g=='a1'"}],"mark":{"type":"line"},
    "encoding":{"x":{"field":"t","type":"quantitative"},"y":{"field":"v","type":"quantitative"},"color":{"field":"s","type":"nominal"},"strokeDash":{"field":"s","type":"nominal"}}}
  ]},
  {"layer":[
   {"data":{"values":[{}]},"mark":{"type":"rect","fill":"#fff","stroke":"#000","strokeWidth":1.2},
    "encoding":{"x":{"datum":4.9,"type":"quantitative","scale":{"domain":[4.9,5.1],"range":[205,286],"nice":false,"zero":false,"clamp":true},"axis":{"orient":"bottom","offset":-23,"values":[4.9,5,5.1],"title":null,"labelExpr":"''+datum.value","labelOverlap":false,"zindex":1}},"x2":{"datum":5.1},
     "y":{"datum":-0.12,"type":"quantitative","scale":{"domain":[-0.12,-0.02],"range":[178,127],"nice":false,"zero":false,"clamp":true},"axis":{"orient":"left","offset":-205,"values":[-0.12,-0.07,-0.02],"title":null,"labelExpr":"''+datum.value","labelOverlap":false,"zindex":1}},"y2":{"datum":-0.02}}},
   {"data":{"name":"ins"},"transform":[{"filter":"datum.g=='a2'"}],"mark":{"type":"line","interpolate":"linear"},
    "encoding":{"x":{"field":"t","type":"quantitative"},"y":{"field":"v","type":"quantitative"},"color":{"field":"s","type":"nominal"},"strokeDash":{"field":"s","type":"nominal"}}}
  ]}
 ],
 "resolve":{"scale":{"x":"independent","y":"independent"},"axis":{"x":"independent","y":"independent"}}
},
{"width":352,"height":201,"title":{"text":"(b)"},
 "layer":[
  {"layer":[
   {"data":{"name":"b"},"transform":[{"fold":["PID","NDOPID","NFTSM","NDONFT","TD3NDONFT"],"as":["s","v"]}],"mark":{"type":"line"},
    "encoding":{
     "x":{"field":"t","type":"quantitative","scale":{"domain":[0,10],"nice":false,"zero":false},"axis":{"orient":"bottom","title":"Time(s)","values":[0,1,2,3,4,5,6,7,8,9,10],"labelExpr":"''+datum.value","labelOverlap":false,"titleFontSize":12.5,"titlePadding":2}},
     "y":{"field":"v","type":"quantitative","scale":{"domain":[-0.5,2],"nice":false,"zero":false},"axis":{"orient":"left","title":"Velocity tracking error of joint 1(rad/s)","values":[-0.5,0.5,1.5],"labelExpr":"''+datum.value","labelOverlap":false,"titleFontSize":11.5,"titlePadding":3}},
     "color":{"field":"s","type":"nominal","scale":{"domain":["PID","NDOPID","NFTSM","NDONFT","TD3NDONFT"],"range":["#1FB8F0","#1A1AFF","#FFA64D","#EE5A9C","#FF3A1A"]},"legend":{"title":null}},
     "strokeDash":{"field":"s","type":"nominal","scale":{"domain":["PID","NDOPID","NFTSM","NDONFT","TD3NDONFT"],"range":[[6,4],[2,1.5],[6,5],[1.5,1.5],[8,4]]},"legend":{"title":null}}}},
   {"data":{"values":[{}]},"mark":{"type":"rule","color":"#000","strokeDash":[6,4],"strokeWidth":1.5},"encoding":{"y":{"datum":0,"type":"quantitative"}}}
  ]},
  {"data":{"values":[{}]},"mark":{"type":"point","opacity":0},
   "encoding":{"x":{"datum":0,"type":"quantitative","scale":{"domain":[0,10],"nice":false,"zero":false},"axis":{"orient":"top","values":[0,1,2,3,4,5,6,7,8,9,10],"labels":false,"title":null}},
    "y":{"datum":0,"type":"quantitative","scale":{"domain":[-0.5,2],"nice":false,"zero":false},"axis":{"orient":"right","values":[-0.5,0,0.5,1,1.5,2],"labels":false,"title":null}}}},
  {"data":{"values":[{}]},"mark":{"type":"point","opacity":0},
   "encoding":{"x":{"datum":0,"type":"quantitative","scale":{"domain":[0,10],"nice":false,"zero":false},"axis":null},
    "y":{"datum":0,"type":"quantitative","scale":{"domain":[-0.5,2],"nice":false,"zero":false},"axis":{"orient":"left","values":[0,1,2],"title":null,"labelExpr":"''+datum.value","labelOverlap":false}}}},
  {"data":{"values":[{}]},"mark":{"type":"point","opacity":0},
   "encoding":{"x":{"datum":1,"type":"quantitative","scale":{"domain":[1,10],"range":[51,313],"nice":false,"zero":false},"axis":{"orient":"bottom","offset":-70,"values":[2,4,6,8,10],"title":null,"labelExpr":"''+datum.value","labelOverlap":false,"zindex":1}},
    "y":{"datum":0,"type":"quantitative","scale":{"domain":[-0.04,0.08],"range":[131,38],"nice":false,"zero":false},"axis":null}}},
  {"layer":[
   {"data":{"values":[{}]},"mark":{"type":"rect","fill":"#fff","stroke":"#000","strokeWidth":1.2},
    "encoding":{"x":{"datum":1,"type":"quantitative","scale":{"domain":[1,10],"range":[51,313],"nice":false,"zero":false,"clamp":true},"axis":{"orient":"bottom","offset":-70,"values":[1,3,5,7,9],"title":null,"labelExpr":"''+datum.value","labelOverlap":false,"zindex":1}},"x2":{"datum":10},
     "y":{"datum":-0.04,"type":"quantitative","scale":{"domain":[-0.04,0.08],"range":[131,38],"nice":false,"zero":false,"clamp":true},"axis":{"orient":"left","offset":-51,"values":[-0.04,0,0.04,0.08],"title":null,"labelExpr":"''+datum.value","labelOverlap":false,"zindex":1}},"y2":{"datum":0.08}}},
   {"data":{"name":"b"},"transform":[{"filter":"datum.t>=1"},{"fold":["PID","NDOPID","NFTSM","NDONFT","TD3NDONFT"],"as":["s","v"]}],"mark":{"type":"line"},
    "encoding":{"x":{"field":"t","type":"quantitative"},"y":{"field":"v","type":"quantitative"},"color":{"field":"s","type":"nominal"},"strokeDash":{"field":"s","type":"nominal"}}},
   {"data":{"values":[{}]},"mark":{"type":"rule","color":"#000","strokeDash":[6,4],"strokeWidth":1.5},"encoding":{"x":{"datum":1,"type":"quantitative"},"x2":{"datum":10},"y":{"datum":0,"type":"quantitative"}}}
  ]}
 ],
 "resolve":{"scale":{"x":"independent","y":"independent"},"axis":{"x":"independent","y":"independent"}}
},
{"width":352,"height":201,"title":{"text":"(c)"},
 "layer":[
  {"layer":[
   {"data":{"name":"c"},"transform":[{"fold":["Desired","PID","NDOPID","NFTSM","NDONFT","TD3NDONFT"],"as":["s","v"]}],"mark":{"type":"line"},
    "encoding":{
     "x":{"field":"t","type":"quantitative","scale":{"domain":[0,10],"nice":false,"zero":false},"axis":{"orient":"bottom","title":"Time(s)","values":[0,1,2,3,4,5,6,7,8,9,10],"labelExpr":"''+datum.value","labelOverlap":false,"titleFontSize":12.5,"titlePadding":2}},
     "y":{"field":"v","type":"quantitative","scale":{"domain":[-0.35,0.15],"nice":false,"zero":false},"axis":{"orient":"left","title":"Velocity tracking of joint 2(m/s)","values":[-0.35,-0.25,-0.15,-0.05,0.05],"labelExpr":"''+datum.value","labelOverlap":false,"titleFontSize":11.5,"titlePadding":3}},
     "color":{"field":"s","type":"nominal","scale":{"domain":["Desired","PID","NDOPID","NFTSM","NDONFT","TD3NDONFT"],"range":["#000000","#1FB8F0","#1A1AFF","#FFA64D","#EE5A9C","#FF3A1A"]},"legend":{"title":null}},
     "strokeDash":{"field":"s","type":"nominal","scale":{"domain":["Desired","PID","NDOPID","NFTSM","NDONFT","TD3NDONFT"],"range":[[1,0],[6,4],[2,1.5],[6,5],[1.5,1.5],[8,4]]},"legend":{"title":null}}}},
   {"data":{"name":"arrows"},"transform":[{"filter":"datum.g=='c'"}],"mark":{"type":"rule","color":"#000","strokeWidth":0.8},
    "encoding":{"x":{"field":"x","type":"quantitative"},"y":{"field":"y","type":"quantitative"},"x2":{"field":"x2"},"y2":{"field":"y2"}}},
   {"data":{"name":"arrows"},"transform":[{"filter":"datum.g=='c' && datum.k==1"}],"mark":{"type":"point","shape":"triangle-up","filled":true,"color":"#000","opacity":1,"size":28,"angle":145},
    "encoding":{"x":{"field":"x2","type":"quantitative"},"y":{"field":"y2","type":"quantitative"}}},
   {"data":{"name":"arrows"},"transform":[{"filter":"datum.g=='c' && datum.k==2"}],"mark":{"type":"point","shape":"triangle-up","filled":true,"color":"#000","opacity":1,"size":28,"angle":140},
    "encoding":{"x":{"field":"x2","type":"quantitative"},"y":{"field":"y2","type":"quantitative"}}}
  ]},
  {"data":{"values":[{}]},"mark":{"type":"point","opacity":0},
   "encoding":{"x":{"datum":0,"type":"quantitative","scale":{"domain":[0,10],"nice":false,"zero":false},"axis":{"orient":"top","values":[0,1,2,3,4,5,6,7,8,9,10],"labels":false,"title":null}},
    "y":{"datum":0,"type":"quantitative","scale":{"domain":[-0.35,0.15],"nice":false,"zero":false},"axis":{"orient":"right","values":[-0.35,-0.3,-0.25,-0.2,-0.15,-0.1,-0.05,0,0.05,0.1],"labels":false,"title":null}}}},
  {"data":{"values":[{}]},"mark":{"type":"point","opacity":0},
   "encoding":{"x":{"datum":0,"type":"quantitative","scale":{"domain":[0,10],"nice":false,"zero":false},"axis":null},
    "y":{"datum":0,"type":"quantitative","scale":{"domain":[-0.35,0.15],"nice":false,"zero":false},"axis":{"orient":"left","values":[-0.3,-0.2,-0.1,0,0.1],"title":null,"labelExpr":"''+datum.value","labelOverlap":false}}}},
  {"layer":[
   {"data":{"values":[{}]},"mark":{"type":"rect","fill":"#fff","stroke":"#000","strokeWidth":1.2},
    "encoding":{"x":{"datum":0.2,"type":"quantitative","scale":{"domain":[0.2,0.8],"range":[46,124],"nice":false,"zero":false,"clamp":true},"axis":{"orient":"bottom","offset":-32,"values":[0.2,0.4,0.6,0.8],"title":null,"labelExpr":"''+datum.value","labelOverlap":false,"zindex":1}},"x2":{"datum":0.8},
     "y":{"datum":0.04,"type":"quantitative","scale":{"domain":[0.04,0.06],"range":[169,118],"nice":false,"zero":false,"clamp":true},"axis":{"orient":"left","offset":-46,"values":[0.04,0.05,0.06],"title":null,"labelExpr":"''+datum.value","labelOverlap":false,"zindex":1}},"y2":{"datum":0.06}}},
   {"data":{"name":"ins"},"transform":[{"filter":"datum.g=='c1'"}],"mark":{"type":"line"},
    "encoding":{"x":{"field":"t","type":"quantitative"},"y":{"field":"v","type":"quantitative"},"color":{"field":"s","type":"nominal"},"strokeDash":{"field":"s","type":"nominal"}}}
  ]},
  {"layer":[
   {"data":{"values":[{}]},"mark":{"type":"rect","fill":"#fff","stroke":"#000","strokeWidth":1.2},
    "encoding":{"x":{"datum":4.9,"type":"quantitative","scale":{"domain":[4.9,5.2],"range":[201,282],"nice":false,"zero":false,"clamp":true},"axis":{"orient":"bottom","offset":-32,"values":[4.9,5,5.1,5.2],"title":null,"labelExpr":"''+datum.value","labelOverlap":false,"zindex":1}},"x2":{"datum":5.2},
     "y":{"datum":-0.05,"type":"quantitative","scale":{"domain":[-0.05,0.01],"range":[169,118],"nice":false,"zero":false,"clamp":true},"axis":{"orient":"left","offset":-201,"values":[-0.05,-0.02,0.01],"title":null,"labelExpr":"''+datum.value","labelOverlap":false,"zindex":1}},"y2":{"datum":0.01}}},
   {"data":{"name":"ins"},"transform":[{"filter":"datum.g=='c2'"}],"mark":{"type":"line","interpolate":"linear"},
    "encoding":{"x":{"field":"t","type":"quantitative"},"y":{"field":"v","type":"quantitative"},"color":{"field":"s","type":"nominal"},"strokeDash":{"field":"s","type":"nominal"}}}
  ]}
 ],
 "resolve":{"scale":{"x":"independent","y":"independent"},"axis":{"x":"independent","y":"independent"}}
},
{"width":352,"height":201,"title":{"text":"(d)"},
 "layer":[
  {"layer":[
   {"data":{"name":"d"},"transform":[{"fold":["PID","NDOPID","NFTSM","NDONFT","TD3NDONFT"],"as":["s","v"]}],"mark":{"type":"line"},
    "encoding":{
     "x":{"field":"t","type":"quantitative","scale":{"domain":[0,10],"nice":false,"zero":false},"axis":{"orient":"bottom","title":"Time(s)","values":[0,1,2,3,4,5,6,7,8,9,10],"labelExpr":"''+datum.value","labelOverlap":false,"titleFontSize":12.5,"titlePadding":2}},
     "y":{"field":"v","type":"quantitative","scale":{"domain":[-0.05,0.4],"nice":false,"zero":false},"axis":{"orient":"left","title":"Velocity tracking error of joint 2(m/s)","values":[-0.05,0.05,0.15,0.25,0.35],"labelExpr":"''+datum.value","labelOverlap":false,"titleFontSize":11.5,"titlePadding":3}},
     "color":{"field":"s","type":"nominal","scale":{"domain":["PID","NDOPID","NFTSM","NDONFT","TD3NDONFT"],"range":["#1FB8F0","#1A1AFF","#FFA64D","#EE5A9C","#FF3A1A"]},"legend":{"title":null}},
     "strokeDash":{"field":"s","type":"nominal","scale":{"domain":["PID","NDOPID","NFTSM","NDONFT","TD3NDONFT"],"range":[[6,4],[2,1.5],[6,5],[1.5,1.5],[8,4]]},"legend":{"title":null}}}},
   {"data":{"values":[{}]},"mark":{"type":"rule","color":"#000","strokeDash":[6,4],"strokeWidth":1.5},"encoding":{"y":{"datum":0,"type":"quantitative"}}}
  ]},
  {"data":{"values":[{}]},"mark":{"type":"point","opacity":0},
   "encoding":{"x":{"datum":0,"type":"quantitative","scale":{"domain":[0,10],"nice":false,"zero":false},"axis":{"orient":"top","values":[0,1,2,3,4,5,6,7,8,9,10],"labels":false,"title":null}},
    "y":{"datum":0,"type":"quantitative","scale":{"domain":[-0.05,0.4],"nice":false,"zero":false},"axis":{"orient":"right","values":[-0.05,0,0.05,0.1,0.15,0.2,0.25,0.3,0.35,0.4],"labels":false,"title":null}}}},
  {"data":{"values":[{}]},"mark":{"type":"point","opacity":0},
   "encoding":{"x":{"datum":0,"type":"quantitative","scale":{"domain":[0,10],"nice":false,"zero":false},"axis":null},
    "y":{"datum":0,"type":"quantitative","scale":{"domain":[-0.05,0.4],"nice":false,"zero":false},"axis":{"orient":"left","values":[0,0.1,0.2,0.3,0.4],"title":null,"labelExpr":"''+datum.value","labelOverlap":false}}}},
  {"data":{"values":[{}]},"mark":{"type":"point","opacity":0},
   "encoding":{"x":{"datum":1,"type":"quantitative","scale":{"domain":[1,10],"range":[46,308],"nice":false,"zero":false},"axis":{"orient":"bottom","offset":-68,"values":[2,4,6,8,10],"title":null,"labelExpr":"''+datum.value","labelOverlap":false,"zindex":1}},
    "y":{"datum":0,"type":"quantitative","scale":{"domain":[-0.01,0.03],"range":[133,40],"nice":false,"zero":false},"axis":null}}},
  {"layer":[
   {"data":{"values":[{}]},"mark":{"type":"rect","fill":"#fff","stroke":"#000","strokeWidth":1.2},
    "encoding":{"x":{"datum":1,"type":"quantitative","scale":{"domain":[1,10],"range":[46,308],"nice":false,"zero":false,"clamp":true},"axis":{"orient":"bottom","offset":-68,"values":[1,3,5,7,9],"title":null,"labelExpr":"''+datum.value","labelOverlap":false,"zindex":1}},"x2":{"datum":10},
     "y":{"datum":-0.01,"type":"quantitative","scale":{"domain":[-0.01,0.03],"range":[133,40],"nice":false,"zero":false,"clamp":true},"axis":{"orient":"left","offset":-46,"values":[-0.01,0.01,0.03],"title":null,"labelExpr":"''+datum.value","labelOverlap":false,"zindex":1}},"y2":{"datum":0.03}}},
   {"data":{"name":"d"},"transform":[{"filter":"datum.t>=1"},{"fold":["PID","NDOPID","NFTSM","NDONFT","TD3NDONFT"],"as":["s","v"]}],"mark":{"type":"line"},
    "encoding":{"x":{"field":"t","type":"quantitative"},"y":{"field":"v","type":"quantitative"},"color":{"field":"s","type":"nominal"},"strokeDash":{"field":"s","type":"nominal"}}},
   {"data":{"values":[{}]},"mark":{"type":"rule","color":"#000","strokeDash":[6,4],"strokeWidth":1.5},"encoding":{"x":{"datum":1,"type":"quantitative"},"x2":{"datum":10},"y":{"datum":0,"type":"quantitative"}}}
  ]}
 ],
 "resolve":{"scale":{"x":"independent","y":"independent"},"axis":{"x":"independent","y":"independent"}}
},
{"width":352,"height":201,"title":{"text":"(e)"},
 "layer":[
  {"layer":[
   {"data":{"name":"e"},"transform":[{"fold":["Desired","PID","NDOPID","NFTSM","NDONFT","TD3NDONFT"],"as":["s","v"]}],"mark":{"type":"line"},
    "encoding":{
     "x":{"field":"t","type":"quantitative","scale":{"domain":[0,10],"nice":false,"zero":false},"axis":{"orient":"bottom","title":"Time(s)","values":[0,1,2,3,4,5,6,7,8,9,10],"labelExpr":"''+datum.value","labelOverlap":false,"titleFontSize":12.5,"titlePadding":2}},
     "y":{"field":"v","type":"quantitative","scale":{"domain":[-2,1],"nice":false,"zero":false},"axis":{"orient":"left","title":"Velocity tracking of joint 3(rad/s)","values":[-2,-1,0,1],"labelExpr":"''+datum.value","labelOverlap":false,"titleFontSize":11.5,"titlePadding":3}},
     "color":{"field":"s","type":"nominal","scale":{"domain":["Desired","PID","NDOPID","NFTSM","NDONFT","TD3NDONFT"],"range":["#000000","#1FB8F0","#1A1AFF","#FFA64D","#EE5A9C","#FF3A1A"]},"legend":{"title":null}},
     "strokeDash":{"field":"s","type":"nominal","scale":{"domain":["Desired","PID","NDOPID","NFTSM","NDONFT","TD3NDONFT"],"range":[[1,0],[6,4],[2,1.5],[6,5],[1.5,1.5],[8,4]]},"legend":{"title":null}}}},
   {"data":{"name":"arrows"},"transform":[{"filter":"datum.g=='e'"}],"mark":{"type":"rule","color":"#000","strokeWidth":0.8},
    "encoding":{"x":{"field":"x","type":"quantitative"},"y":{"field":"y","type":"quantitative"},"x2":{"field":"x2"},"y2":{"field":"y2"}}},
   {"data":{"name":"arrows"},"transform":[{"filter":"datum.g=='e' && datum.k==1"}],"mark":{"type":"point","shape":"triangle-up","filled":true,"color":"#000","opacity":1,"size":28,"angle":234},
    "encoding":{"x":{"field":"x2","type":"quantitative"},"y":{"field":"y2","type":"quantitative"}}},
   {"data":{"name":"arrows"},"transform":[{"filter":"datum.g=='e' && datum.k==2"}],"mark":{"type":"point","shape":"triangle-up","filled":true,"color":"#000","opacity":1,"size":28,"angle":214},
    "encoding":{"x":{"field":"x2","type":"quantitative"},"y":{"field":"y2","type":"quantitative"}}}
  ]},
  {"data":{"values":[{}]},"mark":{"type":"point","opacity":0},
   "encoding":{"x":{"datum":0,"type":"quantitative","scale":{"domain":[0,10],"nice":false,"zero":false},"axis":{"orient":"top","values":[0,1,2,3,4,5,6,7,8,9,10],"labels":false,"title":null}},
    "y":{"datum":0,"type":"quantitative","scale":{"domain":[-2,1],"nice":false,"zero":false},"axis":{"orient":"right","values":[-2,-1.5,-1,-0.5,0,0.5,1],"labels":false,"title":null}}}},
  {"data":{"values":[{}]},"mark":{"type":"point","opacity":0},
   "encoding":{"x":{"datum":0,"type":"quantitative","scale":{"domain":[0,10],"nice":false,"zero":false},"axis":null},
    "y":{"datum":0,"type":"quantitative","scale":{"domain":[-2,1],"nice":false,"zero":false},"axis":{"orient":"left","values":[-1.5,-0.5,0.5],"title":null,"labelExpr":"''+datum.value","labelOverlap":false}}}},
  {"layer":[
   {"data":{"values":[{}]},"mark":{"type":"rect","fill":"#fff","stroke":"#000","strokeWidth":1.2},
    "encoding":{"x":{"datum":3.3,"type":"quantitative","scale":{"domain":[3.3,3.8],"range":[51,130],"nice":false,"zero":false,"clamp":true},"axis":{"orient":"bottom","offset":-22,"values":[3.4,3.6,3.8],"title":null,"labelExpr":"''+datum.value","labelOverlap":false,"zindex":1}},"x2":{"datum":3.8},
     "y":{"datum":-0.51,"type":"quantitative","scale":{"domain":[-0.51,-0.47],"range":[179,127],"nice":false,"zero":false,"clamp":true},"axis":{"orient":"left","offset":-51,"values":[-0.51,-0.49,-0.47],"title":null,"labelExpr":"''+datum.value","labelOverlap":false,"zindex":1}},"y2":{"datum":-0.47}}},
   {"data":{"name":"ins"},"transform":[{"filter":"datum.g=='e1'"}],"mark":{"type":"line"},
    "encoding":{"x":{"field":"t","type":"quantitative"},"y":{"field":"v","type":"quantitative"},"color":{"field":"s","type":"nominal"},"strokeDash":{"field":"s","type":"nominal"}}}
  ]},
  {"layer":[
   {"data":{"values":[{}]},"mark":{"type":"rect","fill":"#fff","stroke":"#000","strokeWidth":1.2},
    "encoding":{"x":{"datum":8,"type":"quantitative","scale":{"domain":[8,8.1],"range":[206,287],"nice":false,"zero":false,"clamp":true},"axis":{"orient":"bottom","offset":-22,"values":[8,8.1],"title":null,"labelExpr":"''+datum.value","labelOverlap":false,"zindex":1}},"x2":{"datum":8.1},
     "y":{"datum":0.09,"type":"quantitative","scale":{"domain":[0.09,0.15],"range":[179,127],"nice":false,"zero":false,"clamp":true},"axis":{"orient":"left","offset":-206,"values":[0.09,0.12,0.15],"title":null,"labelExpr":"''+datum.value","labelOverlap":false,"zindex":1}},"y2":{"datum":0.15}}},
   {"data":{"name":"ins"},"transform":[{"filter":"datum.g=='e2'"}],"mark":{"type":"line","interpolate":"linear"},
    "encoding":{"x":{"field":"t","type":"quantitative"},"y":{"field":"v","type":"quantitative"},"color":{"field":"s","type":"nominal"},"strokeDash":{"field":"s","type":"nominal"}}}
  ]}
 ],
 "resolve":{"scale":{"x":"independent","y":"independent"},"axis":{"x":"independent","y":"independent"}}
},
{"width":352,"height":201,"title":{"text":"(f)"},
 "layer":[
  {"layer":[
   {"data":{"name":"f"},"transform":[{"fold":["PID","NDOPID","NFTSM","NDONFT","TD3NDONFT"],"as":["s","v"]}],"mark":{"type":"line"},
    "encoding":{
     "x":{"field":"t","type":"quantitative","scale":{"domain":[0,10],"nice":false,"zero":false},"axis":{"orient":"bottom","title":"Time(s)","values":[0,1,2,3,4,5,6,7,8,9,10],"labelExpr":"''+datum.value","labelOverlap":false,"titleFontSize":12.5,"titlePadding":2}},
     "y":{"field":"v","type":"quantitative","scale":{"domain":[-0.5,2.5],"nice":false,"zero":false},"axis":{"orient":"left","title":"Velocity tracking error of joint 3(rad/s)","values":[-0.5,0.5,1.5,2.5],"labelExpr":"''+datum.value","labelOverlap":false,"titleFontSize":11.5,"titlePadding":3}},
     "color":{"field":"s","type":"nominal","scale":{"domain":["PID","NDOPID","NFTSM","NDONFT","TD3NDONFT"],"range":["#1FB8F0","#1A1AFF","#FFA64D","#EE5A9C","#FF3A1A"]},"legend":{"title":null}},
     "strokeDash":{"field":"s","type":"nominal","scale":{"domain":["PID","NDOPID","NFTSM","NDONFT","TD3NDONFT"],"range":[[6,4],[2,1.5],[6,5],[1.5,1.5],[8,4]]},"legend":{"title":null}}}},
   {"data":{"values":[{}]},"mark":{"type":"rule","color":"#000","strokeDash":[6,4],"strokeWidth":1.5},"encoding":{"y":{"datum":0,"type":"quantitative"}}}
  ]},
  {"data":{"values":[{}]},"mark":{"type":"point","opacity":0},
   "encoding":{"x":{"datum":0,"type":"quantitative","scale":{"domain":[0,10],"nice":false,"zero":false},"axis":{"orient":"top","values":[0,1,2,3,4,5,6,7,8,9,10],"labels":false,"title":null}},
    "y":{"datum":0,"type":"quantitative","scale":{"domain":[-0.5,2.5],"nice":false,"zero":false},"axis":{"orient":"right","values":[-0.5,0,0.5,1,1.5,2,2.5],"labels":false,"title":null}}}},
  {"data":{"values":[{}]},"mark":{"type":"point","opacity":0},
   "encoding":{"x":{"datum":0,"type":"quantitative","scale":{"domain":[0,10],"nice":false,"zero":false},"axis":null},
    "y":{"datum":0,"type":"quantitative","scale":{"domain":[-0.5,2.5],"nice":false,"zero":false},"axis":{"orient":"left","values":[0,1,2],"title":null,"labelExpr":"''+datum.value","labelOverlap":false}}}},
  {"data":{"values":[{}]},"mark":{"type":"point","opacity":0},
   "encoding":{"x":{"datum":1,"type":"quantitative","scale":{"domain":[1,10],"range":[51,313],"nice":false,"zero":false},"axis":{"orient":"bottom","offset":-69,"values":[2,4,6,8,10],"title":null,"labelExpr":"''+datum.value","labelOverlap":false,"zindex":1}},
    "y":{"datum":0,"type":"quantitative","scale":{"domain":[-0.04,0.08],"range":[132,38],"nice":false,"zero":false},"axis":null}}},
  {"layer":[
   {"data":{"values":[{}]},"mark":{"type":"rect","fill":"#fff","stroke":"#000","strokeWidth":1.2},
    "encoding":{"x":{"datum":1,"type":"quantitative","scale":{"domain":[1,10],"range":[51,313],"nice":false,"zero":false,"clamp":true},"axis":{"orient":"bottom","offset":-69,"values":[1,3,5,7,9],"title":null,"labelExpr":"''+datum.value","labelOverlap":false,"zindex":1}},"x2":{"datum":10},
     "y":{"datum":-0.04,"type":"quantitative","scale":{"domain":[-0.04,0.08],"range":[132,38],"nice":false,"zero":false,"clamp":true},"axis":{"orient":"left","offset":-51,"values":[-0.04,0,0.04,0.08],"title":null,"labelExpr":"''+datum.value","labelOverlap":false,"zindex":1}},"y2":{"datum":0.08}}},
   {"data":{"name":"f"},"transform":[{"filter":"datum.t>=1"},{"fold":["PID","NDOPID","NFTSM","NDONFT","TD3NDONFT"],"as":["s","v"]}],"mark":{"type":"line"},
    "encoding":{"x":{"field":"t","type":"quantitative"},"y":{"field":"v","type":"quantitative"},"color":{"field":"s","type":"nominal"},"strokeDash":{"field":"s","type":"nominal"}}},
   {"data":{"values":[{}]},"mark":{"type":"rule","color":"#000","strokeDash":[6,4],"strokeWidth":1.5},"encoding":{"x":{"datum":1,"type":"quantitative"},"x2":{"datum":10},"y":{"datum":0,"type":"quantitative"}}}
  ]}
 ],
 "resolve":{"scale":{"x":"independent","y":"independent"},"axis":{"x":"independent","y":"independent"}}
}
]
}
